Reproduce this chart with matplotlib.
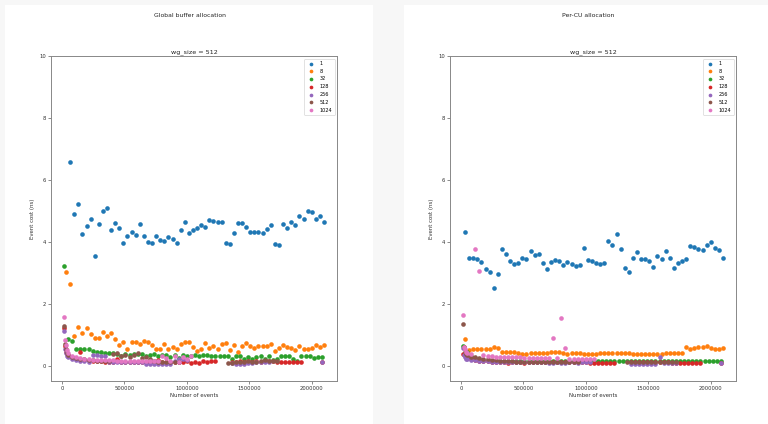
"""
Event cost vs number of events, two allocation strategies side by side
"""
import numpy as np
import matplotlib
matplotlib.use('Agg')
import matplotlib.pyplot as plt
from matplotlib.patches import Rectangle

N = np.nan

# ── DATA ───────────────────────────────────────────────────────────────────────
labels = ['1', '8', '32', '128', '256', '512', '1024']
colors = ['#1f77b4', '#ff7f0e', '#2ca02c', '#d62728', '#9467bd', '#8c564b', '#e377c2']

# event counts
x_n     = 32768 * np.arange(1, 65)
x_green = 16384 + 32768 * np.arange(64)
x_dense = np.concatenate([[16384, 24576, 32768, 40960], 49152 + 32768 * np.arange(63)])

# Global buffer allocation
g_1 = [6.58, 4.89, 5.23, 4.25, 4.52, 4.72, 3.54, 4.57, 4.98, 5.08,
       4.37, 4.61, 4.44, 3.97, 4.19, 4.33, 4.22, 4.57, 4.17, 4.00,
       3.95, 4.17, 4.06, 4.01, 4.14, 4.10, 3.95, 4.38, 4.63, 4.28,
       4.37, 4.43, 4.55, 4.49, 4.70, 4.67, 4.63, 4.63, 3.95, 3.94,
       4.28, 4.59, 4.59, 4.46, 4.30, 4.30, 4.30, 4.28, 4.42, 4.53,
       3.94, 3.91, 4.57, 4.43, 4.63, 4.54, 4.82, 4.75, 4.98, 4.95,
       4.75, 4.82, 4.65]
g_8 = [3.01, 2.62, 0.96, 1.24, 1.04, 1.20, 1.01, 0.88, 0.88, 1.09,
       0.97, 1.04, 0.86, 0.66, 0.76, 0.54, 0.77, 0.77, 0.70, 0.80,
       0.75, 0.67, 0.55, 0.53, 0.71, 0.55, 0.61, 0.55, 0.70, 0.75,
       0.76, 0.60, 0.48, 0.55, 0.74, 0.57, 0.62, 0.55, 0.70, 0.74,
       0.51, 0.66, 0.45, 0.64, 0.73, 0.64, 0.58, 0.64, 0.64, 0.64,
       0.68, 0.46, 0.57, 0.66, 0.59, 0.58, 0.51, 0.62, 0.54, 0.55,
       0.56, 0.66, 0.60, 0.66]
g_32 = [3.21, 0.85, 0.80, 0.55, 0.52, 0.53, 0.53, 0.47, 0.45, 0.44,
        0.42, 0.42, 0.41, 0.38, 0.30, 0.36, 0.35, 0.36, 0.37, 0.36,
        0.30, 0.34, 0.36, 0.30, 0.35, 0.34, 0.28, 0.33, 0.25, 0.34,
        0.32, 0.30, 0.33, 0.32, 0.33, 0.33, 0.32, 0.32, 0.31, 0.32,
        0.31, 0.20, 0.32, 0.31, 0.20, 0.27, 0.20, 0.29, 0.30, 0.20,
        0.32, 0.18, 0.20, 0.31, 0.31, 0.30, 0.20, 0.15, 0.31, 0.32,
        0.31, 0.25, 0.27, 0.28]
g_128 = [1.22, 0.62, 0.45, 0.38,
         0.33, 0.26, 0.22, 0.44, 0.18, 0.17, 0.16, 0.15, 0.14, 0.13,
         0.13, 0.13, 0.20, 0.12, 0.13, 0.12, 0.12, 0.13, 0.12, 0.12,
         0.13, 0.12, 0.18, 0.12, 0.12, 0.12, 0.13, 0.12, 0.13, 0.14,
         0.09, 0.10, 0.08, 0.15, 0.12, 0.15, 0.14, N, N, N,
         0.10, 0.12, 0.14, 0.12, 0.14, 0.10, 0.14, 0.13, 0.14, 0.15,
         0.14, 0.13, 0.12, 0.12, 0.13, 0.12, 0.11, 0.12, N, N, N, N,
         0.10]
g_256 = [1.10, 0.55, 0.40, 0.32,
         0.27, 0.20, 0.17, 0.15, 0.14, 0.13, 0.33, 0.33, 0.31, 0.30,
         0.10, 0.10, 0.10, 0.10, 0.10, 0.10, 0.10, 0.10, 0.10, 0.06,
         0.05, 0.05, 0.05, 0.06, 0.05, 0.06, 0.15, 0.22, 0.20, 0.18,
         N, N, N, N, N, N, N, N, N, N,
         0.07, 0.06, 0.05, 0.06, 0.07, 0.07, 0.10, 0.12, 0.10, 0.12,
         N, N, N, N, N, N, N, N, N, N, N, N,
         0.10]
g_512 = [1.27, 0.69, 0.52, 0.42,
         0.35, 0.28, 0.24, 0.22, 0.20, 0.18, 0.17, 0.16, 0.15, 0.14,
         0.15, 0.38, 0.40, 0.30, 0.33, 0.28, 0.35, 0.40, 0.25, 0.27,
         0.20, 0.15, 0.13, 0.12, 0.12, 0.12, 0.12, 0.12, N, N,
         N, N, N, N, N, N, N, N, N, 0.07,
         0.08, 0.10, 0.12, 0.10, 0.14, 0.12, 0.10, 0.16, 0.17, 0.15,
         0.15, 0.14, N, N, N, N, N, N, N, N, N, N,
         N]
g_1024 = [1.56, 0.82, 0.65, 0.50,
          0.40, 0.30, 0.26, 0.23, 0.22, 0.20, 0.19, 0.18, 0.18, 0.17,
          0.17, 0.17, 0.16, 0.16, 0.16, 0.16, 0.16, 0.15, 0.15, 0.15,
          0.15, 0.15, 0.15, 0.30, 0.25, 0.15, 0.30, 0.10, 0.28, 0.20,
          0.30, N, N, N, N, N, N, N, N, N,
          N, N, N, N, N, N, N, N, N, N,
          N, N, N, N, N, N, N, N, N, N, N, N,
          N]

# Per-CU allocation
p_1 = [4.31, 3.49, 3.49, 3.44, 3.35, 3.12, 3.02, 2.52, 2.96, 3.78,
       3.61, 3.37, 3.28, 3.32, 3.49, 3.44, 3.69, 3.58, 3.61, 3.30,
       3.12, 3.34, 3.40, 3.37, 3.24, 3.35, 3.28, 3.22, 3.25, 3.80,
       3.42, 3.38, 3.30, 3.29, 3.30, 4.03, 3.89, 4.24, 3.77, 3.14,
       3.03, 3.47, 3.68, 3.44, 3.44, 3.37, 3.17, 3.54, 3.44, 3.71,
       3.46, 3.16, 3.32, 3.38, 3.44, 3.87, 3.84, 3.75, 3.72, 3.88,
       4.00, 3.81, 3.74, 3.49]
p_8 = [0.85, 0.50, 0.53, 0.55, 0.55, 0.54, 0.55, 0.61, 0.58, 0.45,
       0.45, 0.45, 0.45, 0.41, 0.38, 0.38, 0.39, 0.41, 0.42, 0.41,
       0.42, 0.43, 0.43, 0.45, 0.41, 0.38, 0.41, 0.41, 0.41, 0.38,
       0.38, 0.38, 0.38, 0.41, 0.41, 0.41, 0.41, 0.41, 0.41, 0.41,
       0.41, 0.38, 0.38, 0.38, 0.38, 0.38, 0.38, 0.38, 0.38, 0.39,
       0.41, 0.41, 0.41, 0.41, 0.61, 0.55, 0.58, 0.60, 0.61, 0.62,
       0.56, 0.54, 0.52, 0.58]
p_32 = [0.62, 0.45, 0.30, 0.24, 0.20, 0.18, 0.17, 0.16, 0.15, 0.15,
        0.15, 0.14, 0.15, 0.15, 0.14, 0.15, 0.16, 0.15, 0.15, 0.14,
        0.15, 0.14, 0.15, 0.15, 0.14, 0.15, 0.14, 0.14, 0.15, 0.14,
        0.15, 0.14, 0.15, 0.16, 0.16, 0.15, 0.14, 0.15, 0.15, 0.14,
        0.15, 0.14, 0.15, 0.16, 0.14, 0.15, 0.15, 0.14, 0.15, 0.15,
        0.14, 0.15, 0.16, 0.15, 0.14, 0.15, 0.15, 0.16, 0.15, 0.16,
        0.15, 0.16, 0.15, 0.14]
p_128 = [0.38, 0.60, 0.35, 0.28,
         0.24, 0.20, 0.18, 0.16, 0.15, 0.14, 0.13, 0.13, 0.12, 0.10,
         0.09, 0.10, 0.10, 0.10, 0.09, 0.10, 0.12, 0.12, 0.12, 0.12,
         0.11, 0.11, 0.11, 0.11, 0.11, 0.11, 0.11, 0.11, 0.11, 0.11,
         0.08, 0.08, 0.07, 0.08, 0.08, 0.08, 0.09, N, N, N,
         0.10, 0.10, 0.10, 0.10, 0.10, 0.10, 0.10, 0.10, 0.10, 0.10,
         0.09, 0.08, 0.08, 0.08, 0.08, 0.08, 0.08, 0.08, N, N, N, N,
         0.07]
p_256 = [0.56, 0.35, 0.27, 0.22,
         0.20, 0.18, 0.17, 0.16, 0.15, 0.14, 0.13, 0.13, 0.12, 0.12,
         0.12, 0.12, 0.12, 0.12, 0.12, 0.12, 0.11, 0.11, 0.11, 0.10,
         0.09, 0.09, 0.10, 0.09, 0.09, 0.10, 0.10, 0.09, 0.10, 0.10,
         0.10, N, N, N, N, N, N, N, N, N,
         0.06, 0.05, 0.06, 0.06, 0.05, 0.06, 0.06, 0.28, 0.08, 0.08,
         0.08, 0.09, N, N, N, N, N, N, N, N, N, N,
         0.07]
p_512 = [1.33, 0.60, 0.45, 0.38,
         0.33, 0.28, 0.26, 0.24, 0.22, 0.20, 0.18, 0.17, 0.16, 0.15,
         0.14, 0.14, 0.13, 0.13, 0.13, 0.13, 0.13, 0.12, 0.12, 0.12,
         0.12, 0.12, 0.12, 0.12, 0.12, 0.12, 0.12, 0.12, N, N,
         N, N, N, N, N, N, N, N, N, 0.10,
         0.10, 0.11, 0.10, 0.11, 0.10, 0.12, 0.11, 0.10, 0.12, 0.11,
         0.10, 0.11, N, N, N, N, N, N, N, N, N, N,
         N]
p_1024 = [1.62, 0.60, 0.52, 0.45,
          0.42, 0.36, 3.78, 3.05, 0.33, 0.30, 0.30, 0.28, 0.28, 0.28,
          0.27, 0.27, 0.26, 0.26, 0.25, 0.25, 0.25, 0.24, 0.24, 0.24,
          0.24, 0.89, 0.23, 1.55, 0.56, 0.22, 0.22, 0.22, 0.22, 0.22,
          0.21, 0.20, N, N, N, N, N, N, N, N,
          N, N, N, N, N, N, N, N, N, N,
          N, N, N, N, N, N, N, N, N, N, N, N,
          N]

global_series = [(x_n[1:], g_1), (x_n, g_8), (x_green, g_32), (x_dense, g_128),
                 (x_dense, g_256), (x_dense, g_512), (x_dense, g_1024)]
percu_series = [(x_n, p_1), (x_n, p_8), (x_green, p_32), (x_dense, p_128),
                (x_dense, p_256), (x_dense, p_512), (x_dense, p_1024)]


# ── PLOTTING ───────────────────────────────────────────────────────────────────

def draw_panel(ax, series):
    """Scatter every wg count on one axes"""
    for (xs, ys), lab, col in zip(series, labels, colors):
        ax.scatter(xs, ys, s=11, color=col, linewidths=0, label=lab)

    ax.set_ylim(-0.5, 10)
    ax.set_yticks([0, 2, 4, 6, 8, 10])
    ax.set_xticks([0, 500000, 1000000, 1500000, 2000000])
    ax.ticklabel_format(axis='x', style='plain')
    ax.set_title('wg_size = 512', fontsize=4.6, color='#222222', pad=2)
    ax.set_xlabel('Number of events', fontsize=3.9, color='#333333', labelpad=1.5)
    ax.set_ylabel('Event cost (ns)', fontsize=3.9, color='#333333', labelpad=3)
    ax.tick_params(labelsize=3.75, length=2, width=0.4, pad=1.5, colors='#333333')
    for sp in ax.spines.values():
        sp.set_color('#888888')
        sp.set_linewidth(0.7)
    leg = ax.legend(loc='upper right', fontsize=3.6, markerscale=0.8,
                    handletextpad=0.6, borderpad=0.5, labelspacing=0.55,
                    framealpha=1, fancybox=True)
    leg.get_frame().set_linewidth(0.4)
    leg.get_frame().set_edgecolor('#cccccc')


fig = plt.figure(figsize=(7.68, 4.24), dpi=100, facecolor='#f7f7f7')

# white panels behind each chart
fig.patches.append(Rectangle((5 / 768, 0), 368 / 768, 419 / 424, transform=fig.transFigure,
                             facecolor='white', edgecolor='none', zorder=-10))
fig.patches.append(Rectangle((404 / 768, 0), 364 / 768, 419 / 424, transform=fig.transFigure,
                             facecolor='white', edgecolor='none', zorder=-10))

fig.text(189.5 / 768, 1 - 15.7 / 424, 'Global buffer allocation', ha='center', va='center',
         fontsize=4.4, color='#222222')
fig.text(588 / 768, 1 - 15.7 / 424, 'Per-CU allocation', ha='center', va='center',
         fontsize=4.4, color='#222222')

ax1 = fig.add_axes([51 / 768, 43 / 424, 286 / 768, 325 / 424])
ax2 = fig.add_axes([450 / 768, 43 / 424, 286 / 768, 325 / 424])

draw_panel(ax1, global_series)
draw_panel(ax2, percu_series)

fig.savefig('out.png', dpi=100, facecolor=fig.get_facecolor())
